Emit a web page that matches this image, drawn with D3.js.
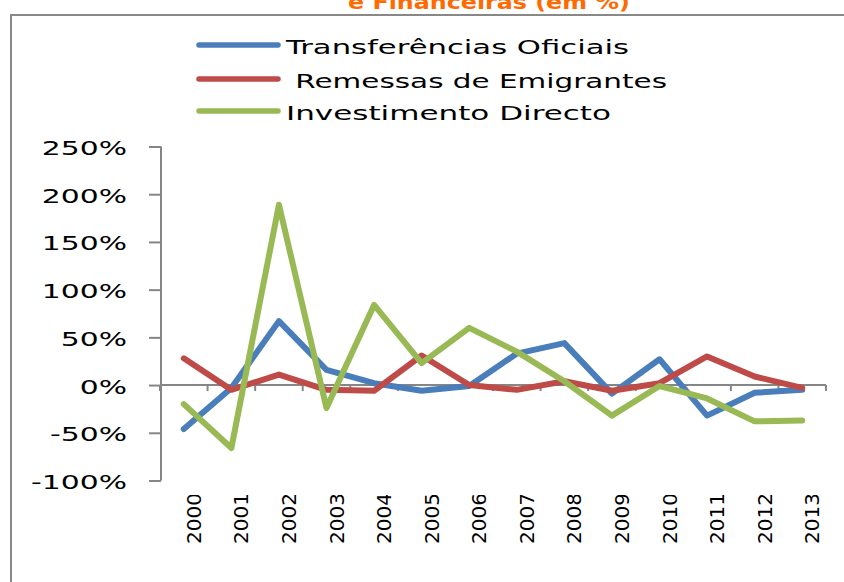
<!DOCTYPE html>
<html>
<head>
<meta charset="utf-8">
<script src="https://cdn.jsdelivr.net/npm/d3@7"></script>
<style>
  body { margin: 0; background: #fff; }
  text { font-family: "DejaVu Sans", sans-serif; fill: #000; }
</style>
</head>
<body>
<svg id="chart" width="844" height="582"></svg>
<script>
// values (in %)
var years = ["2000","2001","2002","2003","2004","2005","2006","2007","2008","2009","2010","2011","2012","2013"];
var transferencias = [-46, -3, 67, 16, 2, -6, -1, 33, 44, -9, 27, -32, -8, -5];
var remessas = [28, -5, 11, -5, -6, 31, 0, -5, 4, -6, 2, 30, 9, -3];
var investimento = [-20, -66, 189, -24, 84, 23, 60, 35, 4, -32, -1, -14, -38, -37];
var yTicks = [-100, -50, 0, 50, 100, 150, 200, 250];
var seriesNames = ["Transferências Oficiais", " Remessas de Emigrantes", "Investimento Directo"];
var seriesColors = ["#4a7ebb", "#be4b48", "#98b954"];

var series = [transferencias, remessas, investimento];

var svg = d3.select("#chart");
var axisGrey = "#868686";
var stretch = 1.49;   // the picture's text is wide, so stretch it sideways

// frame of the chart area (only top and left edges show)
svg.append("path")
    .attr("d", "M11,582 V15 H844")
    .attr("fill", "none")
    .attr("stroke", "#888")
    .attr("stroke-width", 2);

// title, cut off at the top as in the picture
svg.append("text")
    .attr("x", 348)
    .attr("y", 9)
    .attr("textLength", 282)
    .attr("lengthAdjust", "spacingAndGlyphs")
    .style("font-weight", "bold")
    .style("font-size", "20px")
    .style("fill", "#ff6a00")
    .text("e Financeiras (em %)");

var x = d3.scaleBand()
    .domain(years)
    .range([160, 826]);

var y = d3.scaleLinear()
    .domain([-100, 250])
    .range([480.5, 146.5]);

// y axis
var yAxis = svg.append("g")
    .attr("transform", "translate(161,0)")
    .call(d3.axisLeft(y).tickValues(yTicks).tickSize(12).tickFormat(function(d) { return d + "%"; }));
yAxis.select(".domain").attr("stroke", axisGrey).attr("stroke-width", 2).attr("d", "M0," + y(250) + "V" + y(-100));
yAxis.selectAll(".tick line").attr("stroke", axisGrey).attr("stroke-width", 2);
yAxis.selectAll(".tick text")
    .attr("x", null)
    .attr("dy", null)
    .attr("transform", "translate(-34,8) scale(" + stretch + ",1)")
    .style("font-size", "20px")
    .attr("text-anchor", "end")
    .attr("fill", "#000");

// x axis at 0%
var xAxis = svg.append("g")
    .attr("transform", "translate(0," + y(0) + ")");
xAxis.append("line")
    .attr("x1", x.range()[0]).attr("x2", x.range()[1])
    .attr("stroke", axisGrey).attr("stroke-width", 2);
xAxis.selectAll(".xtick")
    .data(years.concat(["end"]))
    .enter().append("line")
    .attr("class", "xtick")
    .attr("x1", function(d, i) { return x.range()[0] + i * x.step(); })
    .attr("x2", function(d, i) { return x.range()[0] + i * x.step(); })
    .attr("y1", 0).attr("y2", 6)
    .attr("stroke", axisGrey).attr("stroke-width", 2);

// rotated year labels, clipped at the top like the picture
svg.append("clipPath").attr("id", "xclip")
  .append("rect").attr("x", 0).attr("y", 495).attr("width", 844).attr("height", 87);

svg.append("g")
    .attr("clip-path", "url(#xclip)")
    .selectAll("text")
    .data(years)
    .enter().append("text")
    .attr("transform", function(d) {
      return "translate(" + (x(d) + x.bandwidth() / 2 + 17) + ",544) rotate(-90)";
    })
    .style("font-size", "20px")
    .text(function(d) { return d; });

// lines
var line = d3.line()
    .x(function(d, i) { return x(years[i]) + x.bandwidth() / 2; })
    .y(function(d) { return y(d); });

svg.selectAll(".serie")
    .data(series)
    .enter().append("path")
    .attr("class", "serie")
    .attr("d", line)
    .attr("fill", "none")
    .attr("stroke", function(d, i) { return seriesColors[i]; })
    .attr("stroke-width", 6)
    .attr("stroke-linejoin", "round")
    .attr("stroke-linecap", "round");

// legend
var legendY = [45, 79, 111];
var legendWidth = [343, 381, 325];
var legend = svg.selectAll(".legend")
    .data(seriesNames)
    .enter().append("g")
    .attr("class", "legend")
    .attr("transform", function(d, i) { return "translate(0," + legendY[i] + ")"; });

legend.append("line")
    .attr("x1", 199).attr("x2", 278)
    .attr("stroke", function(d, i) { return seriesColors[i]; })
    .attr("stroke-width", 5.5)
    .attr("stroke-linecap", "round");

legend.append("text")
    .attr("x", 286)
    .attr("y", 9)
    .attr("textLength", function(d, i) { return legendWidth[i]; })
    .attr("lengthAdjust", "spacingAndGlyphs")
    .style("font-size", "20px")
    .style("white-space", "pre")
    .text(function(d) { return d; });
</script>
</body>
</html>
